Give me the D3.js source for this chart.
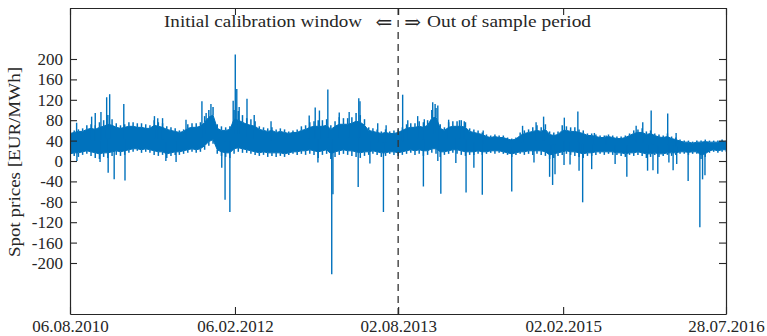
<!DOCTYPE html>
<html>
<head>
<meta charset="utf-8">
<script src="https://cdn.jsdelivr.net/npm/d3@7/dist/d3.min.js"></script>
<style>
  html, body { margin: 0; padding: 0; background: #fff; }
  svg { display: block; }
  text { font-family: "Liberation Serif", "DejaVu Serif", serif; fill: #262626; }
</style>
</head>
<body>
<svg id="chart" width="767" height="336"></svg>
<script>
// Hourly day-ahead spot prices, 06.08.2010 - 28.07.2016 (EUR/MWh)
const periodStart = "06.08.2010";
const periodEnd = "28.07.2016";
const splitLabel = "02.08.2013";
const sampleStepDays = 14;

// Fortnightly extremes of the dense hourly band
const bandHigh = [58, 60, 62, 64, 70, 72, 70, 76, 80, 90, 82, 74, 70, 72, 76, 76, 74, 74, 72, 70,
  80, 76, 74, 68, 66, 64, 60, 62, 72, 74, 74, 76, 88, 100, 106, 72, 68, 66, 68, 100,
  98, 90, 84, 82, 78, 68, 66, 64, 66, 62, 64, 62, 58, 60, 62, 68, 70, 76, 78, 80,
  80, 82, 70, 78, 86, 84, 84, 86, 94, 90, 82, 66, 64, 62, 58, 62, 58, 60, 62, 66,
  72, 74, 74, 78, 76, 80, 100, 104, 72, 66, 76, 78, 78, 80, 76, 64, 62, 60, 56, 52,
  50, 52, 50, 50, 46, 44, 46, 56, 60, 62, 66, 70, 66, 72, 58, 56, 58, 70, 68, 66,
  66, 62, 60, 54, 54, 52, 50, 50, 52, 50, 48, 48, 50, 54, 60, 62, 64, 58, 60, 54,
  52, 50, 54, 48, 46, 42, 40, 40, 38, 40, 40, 42, 40, 40, 40, 42, 40];
const bandLow = [5, 10, 8, 12, 14, 10, 6, 4, 8, 6, 10, 12, 10, 12, 16, 18, 20, 16, 18, 16,
  12, 10, 12, 6, 10, 12, 12, 14, 16, 18, 16, 18, 22, 30, 34, 14, 10, 8, 6, 14,
  18, 16, 16, 14, 12, 10, 12, 8, 10, 8, 10, 8, 12, 14, 12, 14, 12, 14, 12, 6,
  12, 14, 4, 8, 12, 14, 12, 10, 8, 6, 10, 12, 14, 12, 8, 10, 14, 12, 10, 12,
  14, 16, 12, 14, 10, 12, 16, 14, 8, 12, 14, 16, 14, 12, 10, 12, 12, 14, 12, 14,
  16, 14, 16, 14, 12, 8, 12, 14, 12, 14, 12, 14, 12, 10, 4, 6, 10, 12, 14, 12,
  10, 8, 6, 10, 10, 12, 14, 12, 14, 12, 12, 10, 8, 12, 10, 12, 10, 6, 8, 12,
  8, 10, 12, 10, 12, 14, 14, 12, 14, 14, 4, 8, 16, 18, 16, 18, 18];

// Fortnightly range of the solid core of the band
const coreHigh = [54, 56, 58, 58, 62, 64, 62, 66, 68, 72, 70, 66, 64, 66, 68, 68, 66, 66, 64, 64,
  70, 68, 66, 62, 60, 58, 56, 58, 64, 66, 66, 68, 76, 86, 90, 64, 60, 60, 62, 82,
  80, 76, 72, 70, 68, 62, 60, 58, 60, 56, 58, 56, 54, 56, 56, 60, 62, 66, 68, 68,
  68, 70, 62, 68, 72, 72, 72, 74, 78, 76, 70, 60, 58, 56, 54, 56, 54, 54, 56, 60,
  64, 66, 66, 68, 66, 70, 84, 86, 64, 60, 66, 68, 68, 68, 66, 58, 56, 54, 52, 48,
  46, 48, 46, 46, 43, 41, 43, 50, 54, 56, 58, 60, 58, 62, 52, 50, 52, 60, 60, 58,
  58, 56, 54, 50, 50, 48, 46, 46, 48, 46, 44, 44, 46, 50, 54, 56, 56, 52, 54, 50,
  47, 46, 48, 44, 42, 39, 37, 37, 35, 37, 37, 38, 37, 37, 37, 39, 37];
const coreLow = [14, 16, 16, 18, 20, 18, 16, 14, 16, 16, 18, 20, 18, 20, 22, 24, 24, 22, 24, 22,
  20, 18, 18, 14, 16, 18, 18, 20, 22, 24, 22, 24, 30, 38, 42, 22, 18, 16, 16, 24,
  26, 24, 22, 20, 18, 16, 18, 16, 16, 16, 16, 14, 16, 18, 18, 20, 20, 22, 20, 18,
  20, 22, 14, 18, 20, 22, 20, 20, 18, 16, 18, 18, 20, 18, 16, 16, 18, 18, 16, 18,
  20, 22, 20, 22, 20, 20, 24, 24, 18, 18, 20, 22, 22, 20, 18, 18, 18, 20, 18, 18,
  20, 20, 20, 18, 16, 14, 16, 18, 18, 20, 20, 20, 20, 18, 12, 14, 16, 18, 20, 18,
  18, 16, 14, 16, 16, 18, 18, 18, 18, 18, 16, 16, 14, 16, 16, 18, 16, 14, 14, 16,
  14, 14, 16, 16, 16, 18, 18, 17, 18, 18, 12, 14, 20, 22, 20, 22, 22];

// Isolated price peaks (days after period start, value)
const peakDays = [22, 72, 84, 103, 122, 132, 179, 281, 292, 308, 386, 439, 453, 469, 543, 550, 555, 563,
  589, 613, 669, 796, 816, 830, 858, 896, 929, 961, 965, 1024, 1052, 1107, 1124, 1157, 1179,
  1207, 1215, 1224, 1260, 1296, 1312, 1375, 1506, 1551, 1576, 1645, 1690, 1745, 1784, 1884,
  1906, 1934, 1989, 2017];
const peakValues = [75, 87, 94, 96, 125, 131, 112, 88, 84, 84, 81, 117, 94, 112, 118, 209, 141, 106,
  122, 90, 78, 89, 105, 99, 140, 95, 96, 123, 117, 74, 70, 130, 80, 88, 82,
  115, 112, 109, 81, 80, 78, 60, 69, 76, 87, 85, 97, 55, 50, 69,
  76, 99, 93, 55];

// Isolated price dips, including negative prices
const dipDays = [23, 100, 127, 147, 183, 319, 353, 505, 516, 532, 825, 871, 875, 959, 998, 1043,
  1176, 1224, 1234, 1284, 1318, 1344, 1372, 1470, 1544, 1596, 1606, 1614, 1644, 1664, 1694,
  1706, 1736, 1814, 1853, 1922, 1940, 1956, 1993, 2007, 2019, 2057, 2096, 2105, 2113];
const dipValues = [0, -2, -23, -36, -38, 0, -2, -13, -76, -100, -3, -222, -65, -51, -5, -100,
  -50, 0, -64, -4, -62, -13, -66, -60, -3, -31, -47, -26, -8, -7, -19,
  -81, -16, -6, -31, -19, -18, -25, -3, -18, -6, -39, -130, -36, -28];

const yTickValues = [-200, -160, -120, -80, -40, 0, 40, 80, 120, 160, 200];
const xTickLabels = ["06.08.2010", "06.02.2012", "02.08.2013", "02.02.2015", "28.07.2016"];
const leftNote = "Initial calibration window";
const rightNote = "Out of sample period";
const yTitle = "Spot prices [EUR/MWh]";

const parse = d3.timeParse("%d.%m.%Y");
const t0 = parse(periodStart);
const dayToDate = d => d3.timeDay.offset(t0, d);

const margin = { left: 70, right: 41, top: 8, bottom: 22 };
const W = 767, H = 336;
const blue = "#0072BD";
const axisColor = "#262626";
const serif = "Liberation Serif, DejaVu Serif, serif";

const svg = d3.select("#chart");

const x = d3.scaleTime()
  .domain([t0, parse(periodEnd)])
  .range([margin.left, W - margin.right]);
const y = d3.scaleLinear()
  .domain([-300, 300])
  .range([H - margin.bottom, margin.top]);

svg.append("defs").append("clipPath").attr("id", "plotClip")
  .append("rect")
  .attr("x", x.range()[0]).attr("y", y.range()[1])
  .attr("width", x.range()[1] - x.range()[0])
  .attr("height", y.range()[0] - y.range()[1]);

const samples = bandHigh.map((h, i) => ({
  date: dayToDate(i * sampleStepDays),
  hi: h, lo: bandLow[i], coreHi: coreHigh[i], coreLo: coreLow[i]
}));

const plot = svg.append("g").attr("clip-path", "url(#plotClip)");

// Solid core of the hourly band
plot.append("path")
  .datum(samples)
  .attr("fill", blue)
  .attr("stroke", blue)
  .attr("stroke-width", 1)
  .attr("d", d3.area()
    .x(d => x(d.date))
    .y0(d => y(d.coreLo))
    .y1(d => y(d.coreHi)));

// Fringe of the band: strokes from the core out to the fortnightly extremes
const fringe = plot.append("g")
  .attr("stroke", blue)
  .attr("stroke-width", 1.5);
fringe.selectAll("line.up")
  .data(samples)
  .join("line").attr("class", "up")
  .attr("x1", d => x(d.date)).attr("x2", d => x(d.date))
  .attr("y1", d => y(d.coreHi)).attr("y2", d => y(d.hi));
fringe.selectAll("line.down")
  .data(samples)
  .join("line").attr("class", "down")
  .attr("x1", d => x(d.date)).attr("x2", d => x(d.date))
  .attr("y1", d => y(d.coreLo)).attr("y2", d => y(d.lo));

// Isolated spikes from the body of the band to the extreme value
const mid = day => {
  const i = Math.max(0, Math.min(samples.length - 1, Math.round(day / sampleStepDays)));
  return (samples[i].coreHi + samples[i].coreLo) / 2;
};
const spikes = peakDays.map((d, i) => ({ day: d, v: peakValues[i] }))
  .concat(dipDays.map((d, i) => ({ day: d, v: dipValues[i] })));

plot.append("g").selectAll("line")
  .data(spikes)
  .join("line")
  .attr("x1", d => x(dayToDate(d.day)))
  .attr("x2", d => x(dayToDate(d.day)))
  .attr("y1", d => y(mid(d.day)))
  .attr("y2", d => y(d.v))
  .attr("stroke", blue)
  .attr("stroke-width", 1.4);

// Split between calibration window and out-of-sample period
const splitX = x(parse(splitLabel));
svg.append("line")
  .attr("x1", splitX).attr("x2", splitX)
  .attr("y1", y.range()[1]).attr("y2", y.range()[0])
  .attr("stroke", "#333")
  .attr("stroke-width", 1.3)
  .attr("stroke-dasharray", "7,5");

// Axes (box with inward ticks)
const tickLen = 7;
const xTickDates = xTickLabels.map(parse);

const gBottom = svg.append("g")
  .attr("transform", `translate(0,${y.range()[0]})`)
  .call(d3.axisBottom(x).tickValues(xTickDates).tickFormat(d3.timeFormat("%d.%m.%Y"))
    .tickSizeInner(-tickLen).tickSizeOuter(0));
const gTop = svg.append("g")
  .attr("transform", `translate(0,${y.range()[1]})`)
  .call(d3.axisTop(x).tickValues(xTickDates).tickFormat("")
    .tickSizeInner(-tickLen).tickSizeOuter(0));
const gLeft = svg.append("g")
  .attr("transform", `translate(${x.range()[0]},0)`)
  .call(d3.axisLeft(y).tickValues(yTickValues).tickFormat(d => String(d))
    .tickSizeInner(-tickLen).tickSizeOuter(0).tickPadding(7));
const gRight = svg.append("g")
  .attr("transform", `translate(${x.range()[1]},0)`)
  .call(d3.axisRight(y).tickValues(yTickValues).tickFormat("")
    .tickSizeInner(-tickLen).tickSizeOuter(0));

[gBottom, gTop, gLeft, gRight].forEach(g => {
  g.select(".domain").attr("stroke", axisColor).attr("stroke-width", 1.2);
  g.selectAll(".tick line").attr("stroke", axisColor).attr("stroke-width", 1.1);
  g.selectAll(".tick text")
    .attr("font-family", serif)
    .attr("font-size", 17)
    .attr("fill", axisColor);
});
gBottom.selectAll(".tick text").attr("y", 18).attr("dy", 0);

// Y axis title
svg.append("text")
  .attr("transform", `translate(20,162) rotate(-90)`)
  .attr("text-anchor", "middle")
  .attr("font-size", 17)
  .attr("textLength", 190).attr("lengthAdjust", "spacingAndGlyphs")
  .text(yTitle);

// Period annotations
const noteY = 27;
svg.append("text")
  .attr("x", 164).attr("y", noteY)
  .attr("font-size", 17)
  .attr("textLength", 198).attr("lengthAdjust", "spacingAndGlyphs")
  .text(leftNote);
svg.append("text")
  .attr("x", splitX - 6).attr("y", noteY + 2)
  .attr("text-anchor", "end")
  .attr("font-family", "DejaVu Sans, sans-serif")
  .attr("font-size", 20)
  .text("\u21D0");
svg.append("text")
  .attr("x", splitX + 6).attr("y", noteY + 2)
  .attr("font-family", "DejaVu Sans, sans-serif")
  .attr("font-size", 20)
  .text("\u21D2");
svg.append("text")
  .attr("x", 427).attr("y", noteY)
  .attr("font-size", 17)
  .attr("textLength", 164).attr("lengthAdjust", "spacingAndGlyphs")
  .text(rightNote);
</script>
</body>
</html>
